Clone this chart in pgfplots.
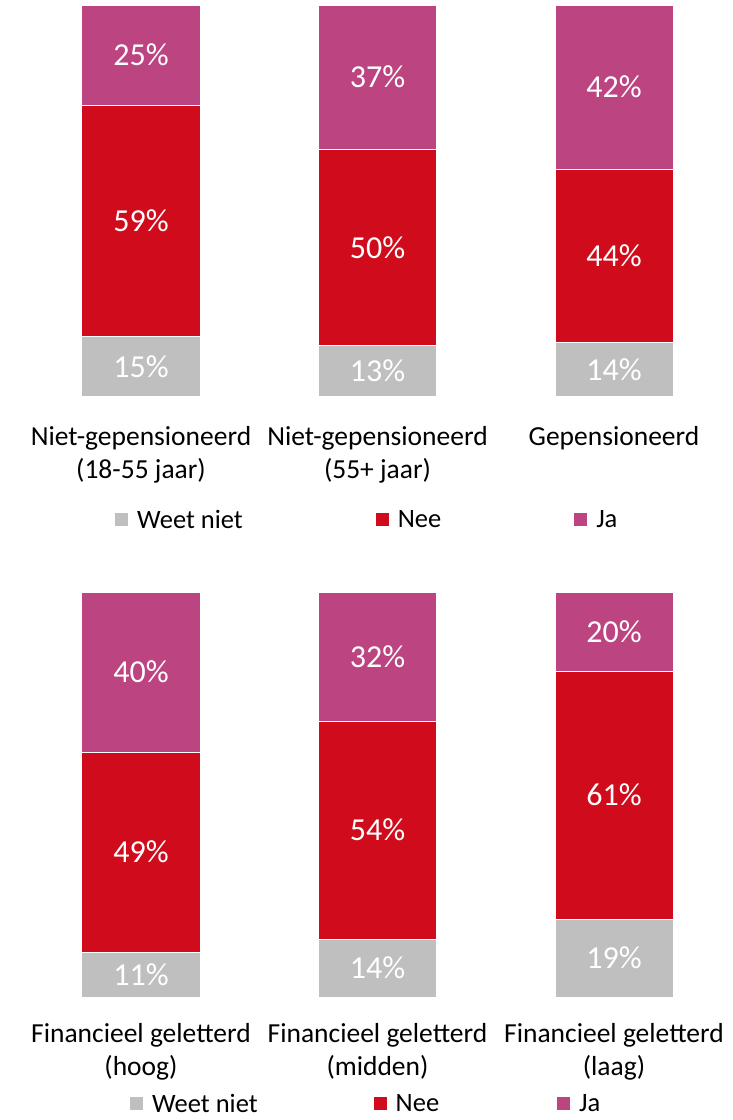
\documentclass[border=0pt]{standalone}
\usepackage{fontspec}
\setmainfont{Carlito}
\usepackage{pgfplots}
\pgfplotsset{compat=1.18}

\definecolor{wnGrey}{HTML}{BFBFBF}
\definecolor{neeRed}{HTML}{D00C1C}
\definecolor{jaPink}{HTML}{BC4480}

% stacked nodes near coords already sit mid-segment; just centre the digits
\newcommand\seglabel{%
  \raisebox{-10.5pt}[0pt][0pt]{\pgfmathprintnumber[fixed,precision=0,assume math mode=true]{\pgfplotspointmeta}\%}}

\pgfplotsset{
  sqlegend/.style={legend image code/.code={\draw[##1,draw=none] (0pt,-6.5pt) rectangle (13pt,6.5pt);}},
  panel/.style={
    scale only axis, width=709.5pt,
    ybar stacked, bar width=118pt,
    xmin=-0.5, xmax=2.5, ymin=0, ymax=100,
    axis line style={draw=none}, tick style={draw=none},
    major tick length=0pt,
    ytick=\empty, xtick={0,1,2},
    xticklabel style={align=center, font=\fontsize{27.5}{33}\selectfont, text=black},
    point meta=explicit,
    nodes near coords={\seglabel},
    every node near coord/.append style={anchor=center, inner sep=0pt, text=white,
      font=\fontsize{32}{38}\selectfont},
    legend columns=3,
    legend style={draw=none, fill=none, inner sep=0pt,
      font=\fontsize{26.5}{30}\selectfont,
      /tikz/every odd column/.append style={column sep=7pt}},
  },
  every axis plot/.append style={draw=white, line width=1pt, sqlegend},
}

\begin{document}
\begin{tikzpicture}
\path[use as bounding box] (0pt,0pt) rectangle (733pt,-1120pt);

% top: pension status
\begin{axis}[panel, at={(22.75pt,-396.7pt)}, anchor=south west, height=391pt,
  xticklabel shift=26pt,
  xticklabels={{Niet-gepensioneerd\\(18-55 jaar)},{Niet-gepensioneerd\\(55+ jaar)},{Gepensioneerd}},
  legend style={at={(0.13,-0.315)}, anchor=west,
    /tikz/every even column/.append style={column sep=131pt}},
]
\addplot[fill=wnGrey] coordinates {(0,15.3)[15.3] (1,13.0)[13.0] (2,13.8)[13.8]};
\addplot[fill=neeRed] coordinates {(0,59.3)[59.3] (1,50.3)[50.3] (2,44.4)[44.4]};
\addplot[fill=jaPink] coordinates {(0,25.4)[25.4] (1,36.7)[36.7] (2,41.8)[41.8]};
\legend{Weet niet, Nee, Ja}
\end{axis}

% bottom: financial literacy
\begin{axis}[panel, at={(22.75pt,-997pt)}, anchor=south west, height=405pt,
  xticklabel shift=23pt,
  xticklabels={{Financieel geletterd\\(hoog)},{Financieel geletterd\\(midden)},{Financieel geletterd\\(laag)}},
  legend style={at={(0.151,-0.264)}, anchor=west,
    /tikz/column 2/.append style={column sep=114pt},
    /tikz/column 4/.append style={column sep=116pt}},
]
\addplot[fill=wnGrey] coordinates {(0,11.0)[11.0] (1,14.3)[14.3] (2,19.2)[19.2]};
\addplot[fill=neeRed] coordinates {(0,49.4)[49.4] (1,53.8)[53.8] (2,61.2)[61.2]};
\addplot[fill=jaPink] coordinates {(0,39.6)[39.6] (1,31.9)[31.9] (2,19.6)[19.6]};
\legend{Weet niet, Nee, Ja}
\end{axis}
\end{tikzpicture}
\end{document}
